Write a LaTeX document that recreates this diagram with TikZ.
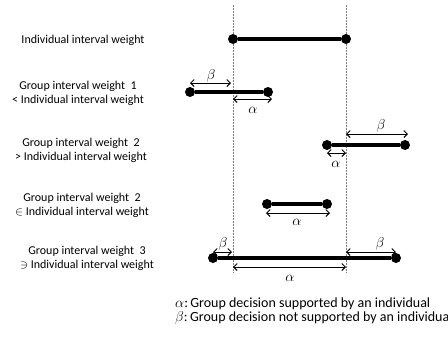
\documentclass[tikz,border=0pt]{standalone}
\usepackage{fontspec}
\setmainfont{Carlito}
\usetikzlibrary{arrows.meta}
\begin{document}
\begin{tikzpicture}[x=1pt,y=-1pt,
  dot/.style={circle,fill=black,minimum size=10pt,inner sep=0pt},
  bar/.style={line width=3.2pt},
  span/.style={line width=1pt,{Straight Barb[length=3.5pt,width=7pt]}-{Straight Barb[length=3.5pt,width=7pt]}},
  guide/.style={gray,line width=0.6pt,dash pattern=on 1.5pt off 1.5pt},
  lbl/.style={align=center,font=\fontsize{12}{14}\selectfont,inner sep=0pt},
  greek/.style={font=\fontsize{14}{14}\selectfont,inner sep=0pt},
  legend/.style={anchor=west,font=\fontsize{14}{14}\selectfont,inner sep=0pt}]
\useasboundingbox (0,0) rectangle (448,341);

% guide lines through the individual interval bounds
\coordinate (gLt) at (233,5);  \coordinate (gLb) at (233,273);
\coordinate (gRt) at (346,5);  \coordinate (gRb) at (346,273);
\draw[guide] (gLt) -- (gLb);
\draw[guide] (gRt) -- (gRb);

% row 1: individual interval
\node[lbl] (t1) at (83,40) {Individual interval weight};
\node[dot] (i1) at (233,39) {};
\node[dot] (i2) at (346,39) {};
\draw[bar] (i1) -- (i2);

% row 2
\node[lbl] (t2) at (78,93) {Group interval weight\ \ 1\\< Individual interval weight};
\node[dot] (a1) at (190,92) {};
\node[dot] (a2) at (268,92) {};
\draw[bar] (a1) -- (a2);
\coordinate (b2l) at (190,83); \coordinate (b2r) at (231,83);
\draw[span] (b2l) -- (b2r);
\node[greek] (b2) at (211,76) {$\beta$};
\coordinate (a2l) at (233,99); \coordinate (a2r) at (272,99);
\draw[span] (a2l) -- (a2r);
\node[greek] (al2) at (253,110) {$\alpha$};

% row 3
\node[lbl] (t3) at (81,150) {Group interval weight\ \ 2\\> Individual interval weight};
\node[dot] (c1) at (327,145) {};
\node[dot] (c2) at (405,145) {};
\draw[bar] (c1) -- (c2);
\coordinate (b3l) at (346,134); \coordinate (b3r) at (408,134);
\draw[span] (b3l) -- (b3r);
\node[greek] (be3) at (381,126) {$\beta$};
\coordinate (a3l) at (327,153); \coordinate (a3r) at (346,153);
\draw[span] (a3l) -- (a3r);
\node[greek] (al3) at (336,164) {$\alpha$};

% row 4
\node[lbl] (t4) at (82,205) {Group interval weight\ \ 2\\$\in$ Individual interval weight};
\node[dot] (d1) at (267,204) {};
\node[dot] (d2) at (327,204) {};
\draw[bar] (d1) -- (d2);
\coordinate (a4l) at (266,213); \coordinate (a4r) at (330,213);
\draw[span] (a4l) -- (a4r);
\node[greek] (al4) at (297,222) {$\alpha$};

% row 5
\node[lbl] (t5) at (87,258) {Group interval weight\ \ 3\\$\ni$ Individual interval weight};
\node[dot] (e1) at (213,258) {};
\node[dot] (e2) at (396,258) {};
\draw[bar] (e1) -- (e2);
\coordinate (b5l) at (213,252); \coordinate (b5m) at (232,252);
\draw[span] (b5l) -- (b5m);
\node[greek] (be5a) at (223,244) {$\beta$};
\coordinate (b5n) at (346,252); \coordinate (b5r) at (396,252);
\draw[span] (b5n) -- (b5r);
\node[greek] (be5b) at (380,244) {$\beta$};
\coordinate (a5l) at (233,267); \coordinate (a5r) at (346,267);
\draw[span] (a5l) -- (a5r);
\node[greek] (al5) at (290,278) {$\alpha$};

% legend
\node[legend] (k1) at (175,304) {$\alpha$:\,Group decision supported by an individual};
\node[legend] (k2) at (175,318) {$\beta$:\,Group decision not supported by an individual};
\end{tikzpicture}
\end{document}
